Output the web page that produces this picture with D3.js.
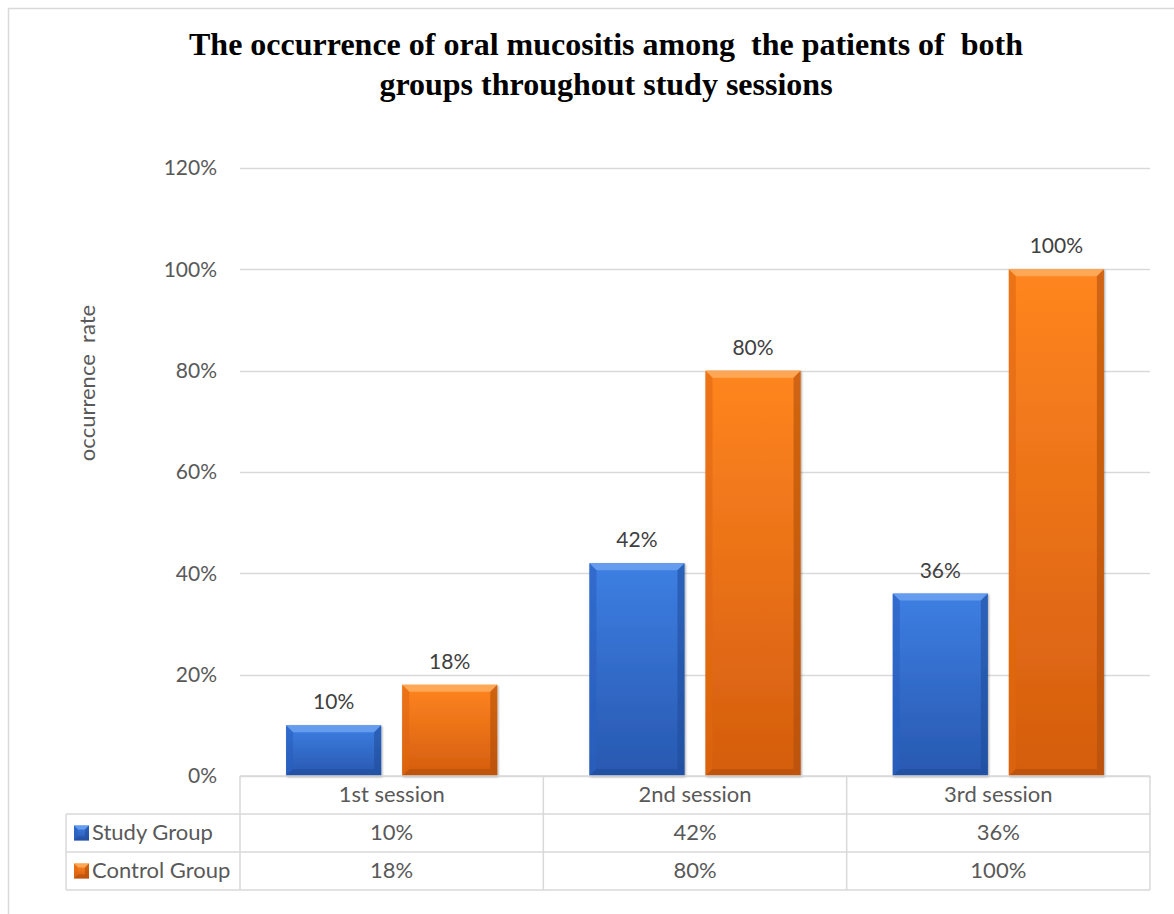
<!DOCTYPE html>
<html>
<head>
<meta charset="utf-8">
<script src="https://cdn.jsdelivr.net/npm/d3@7"></script>
<style>
  html, body { margin: 0; padding: 0; background: #ffffff; }
  svg { display: block; }
</style>
</head>
<body>
<svg id="chart" width="1174" height="914"></svg>
<script>
// Chart data
const categories = ["1st session", "2nd session", "3rd session"];
const seriesNames = ["Study Group", "Control Group"];
const studyValues = [0.10, 0.42, 0.36];
const controlValues = [0.18, 0.80, 1.00];
const yTicks = [0, 0.2, 0.4, 0.6, 0.8, 1.0, 1.2];
const titleLines = [
  "The occurrence of oral mucositis among  the patients of  both",
  "groups throughout study sessions"
];
const yAxisTitle = "occurrence  rate";

const seriesValues = [studyValues, controlValues];

const svg = d3.select("#chart");
const W = 1174, H = 914;
const plot = { left: 240, right: 1150, top: 168, bottom: 776 };
const tableLeft = 66;
const rowBounds = [776, 814, 852, 890];

const fontSans = "Lato, 'Open Sans', sans-serif";
const tickSize = 21;
const tableSize = 22;

// Palette: top/bottom gradient and bevel shades per series
const palette = [
  { top: "#3d7fe3", bottom: "#2858b0", light: "#6aa0f0", dark: "#1f4a98", side: "#2a5fbf" },
  { top: "#ff8520", bottom: "#d45d0e", light: "#ffab5a", dark: "#a94a08", side: "#e06810" }
];

// Outer chart frame
svg.append("rect")
  .attr("x", 8.5).attr("y", 8.5)
  .attr("width", W + 10).attr("height", H + 10)
  .attr("fill", "none").attr("stroke", "#d9d9d9").attr("stroke-width", 1.5);

// Title
const title = svg.append("text")
  .attr("text-anchor", "middle")
  .attr("font-family", "'Liberation Serif', 'Times New Roman', serif")
  .attr("font-weight", "bold")
  .attr("font-size", 32)
  .attr("fill", "#000")
  .style("white-space", "pre");
titleLines.forEach((t, i) => {
  title.append("tspan").attr("x", 606).attr("y", 55 + i * 40).text(t);
});

// Scales
const y = d3.scaleLinear().domain([0, 1.2]).range([plot.bottom, plot.top]);
const x0 = d3.scaleBand().domain(categories).range([plot.left, plot.right]).padding(0);
const x1 = d3.scaleBand().domain(seriesNames).range([0, x0.bandwidth()])
  .paddingInner(0.181).paddingOuter(0.397);

const fmt = d3.format(".0%");

// Gridlines
svg.append("g")
  .selectAll("line")
  .data(yTicks)
  .join("line")
  .attr("x1", plot.left).attr("x2", plot.right)
  .attr("y1", d => Math.round(y(d)) + 0.5).attr("y2", d => Math.round(y(d)) + 0.5)
  .attr("stroke", "#d9d9d9").attr("stroke-width", 1.5);

// Y axis tick labels
const yAxis = d3.axisLeft(y).tickValues(yTicks).tickFormat(fmt).tickSize(0).tickPadding(0);
const yg = svg.append("g").attr("transform", `translate(217,0)`).call(yAxis);
yg.select(".domain").remove();
yg.selectAll("text")
  .attr("font-family", fontSans).attr("font-size", tickSize).attr("fill", "#595959");

// Y axis title
svg.append("text")
  .attr("transform", `translate(95,${383}) rotate(-90)`)
  .attr("text-anchor", "middle")
  .attr("font-family", fontSans).attr("font-size", tableSize).attr("fill", "#595959")
  .style("white-space", "pre")
  .text(yAxisTitle);

// Gradients
const defs = svg.append("defs");
palette.forEach((p, i) => {
  const g = defs.append("linearGradient").attr("id", "grad" + i)
    .attr("x1", 0).attr("y1", 0).attr("x2", 0).attr("y2", 1);
  g.append("stop").attr("offset", "0%").attr("stop-color", p.top);
  g.append("stop").attr("offset", "100%").attr("stop-color", p.bottom);
});
const shadow = defs.append("filter").attr("id", "shadow")
  .attr("x", "-10%").attr("y", "-10%").attr("width", "130%").attr("height", "130%");
shadow.append("feDropShadow").attr("dx", 1).attr("dy", 1).attr("stdDeviation", 1.2)
  .attr("flood-color", "#000").attr("flood-opacity", 0.35);

// Draws a bevelled block in a group
function bevelBlock(g, bx, by, bw, bh, p, gradId, b) {
  b = Math.min(b, bh / 2, bw / 2);
  g.append("rect").attr("x", bx).attr("y", by).attr("width", bw).attr("height", bh)
    .attr("fill", `url(#${gradId})`);
  // top bevel
  g.append("polygon")
    .attr("points", [[bx, by], [bx + bw, by], [bx + bw - b, by + b], [bx + b, by + b]].join(" "))
    .attr("fill", p.light).attr("opacity", 0.9);
  // left bevel
  g.append("polygon")
    .attr("points", [[bx, by], [bx + b, by + b], [bx + b, by + bh - b], [bx, by + bh]].join(" "))
    .attr("fill", p.side).attr("opacity", 0.6);
  // right bevel
  g.append("polygon")
    .attr("points", [[bx + bw, by], [bx + bw, by + bh], [bx + bw - b, by + bh - b], [bx + bw - b, by + b]].join(" "))
    .attr("fill", p.dark).attr("opacity", 0.55);
  // bottom bevel
  g.append("polygon")
    .attr("points", [[bx, by + bh], [bx + b, by + bh - b], [bx + bw - b, by + bh - b], [bx + bw, by + bh]].join(" "))
    .attr("fill", p.dark).attr("opacity", 0.5);
}

// Bars
const barData = [];
categories.forEach((c, ci) => {
  seriesNames.forEach((s, si) => {
    barData.push({ cat: c, series: s, si, value: seriesValues[si][ci] });
  });
});

const barsG = svg.append("g");
barData.forEach(d => {
  const bx = x0(d.cat) + x1(d.series);
  const bw = x1.bandwidth();
  const by = y(d.value);
  const bh = y(0) - by;
  const g = barsG.append("g").attr("filter", "url(#shadow)");
  bevelBlock(g, bx, by, bw, bh, palette[d.si], "grad" + d.si, 7);
});

// Data labels
svg.append("g")
  .selectAll("text")
  .data(barData)
  .join("text")
  .attr("x", d => x0(d.cat) + x1(d.series) + x1.bandwidth() / 2)
  .attr("y", d => y(d.value) - 16)
  .attr("text-anchor", "middle")
  .attr("font-family", fontSans).attr("font-size", tickSize).attr("fill", "#404040")
  .text(d => fmt(d.value));

// Data table
const tableG = svg.append("g");
const gridColor = "#d9d9d9";
// horizontal lines
[
  [plot.left, plot.right, rowBounds[0]],
  [tableLeft, plot.right, rowBounds[1]],
  [tableLeft, plot.right, rowBounds[2]],
  [tableLeft, plot.right, rowBounds[3]]
].forEach(([a, b, yy]) => {
  tableG.append("line").attr("x1", a).attr("x2", b).attr("y1", yy).attr("y2", yy)
    .attr("stroke", gridColor).attr("stroke-width", 1.5);
});
// vertical lines
tableG.append("line").attr("x1", tableLeft).attr("x2", tableLeft)
  .attr("y1", rowBounds[1]).attr("y2", rowBounds[3])
  .attr("stroke", gridColor).attr("stroke-width", 1.5);
const colEdges = [plot.left, ...categories.map(c => x0(c) + x0.bandwidth())];
colEdges.forEach(xx => {
  tableG.append("line").attr("x1", xx).attr("x2", xx)
    .attr("y1", rowBounds[0]).attr("y2", rowBounds[3])
    .attr("stroke", gridColor).attr("stroke-width", 1.5);
});

// Header row: category names
tableG.selectAll("text.cat")
  .data(categories)
  .join("text")
  .attr("class", "cat")
  .attr("x", d => x0(d) + x0.bandwidth() / 2)
  .attr("y", (rowBounds[0] + rowBounds[1]) / 2 + 7)
  .attr("text-anchor", "middle")
  .attr("font-family", fontSans).attr("font-size", tableSize).attr("fill", "#595959")
  .text(d => d);

// Series rows
seriesNames.forEach((s, si) => {
  const rowMid = (rowBounds[si + 1] + rowBounds[si + 2]) / 2;
  const mg = tableG.append("g");
  bevelBlock(mg, 74, rowMid - 7.5, 15, 15, palette[si], "grad" + si, 4);
  tableG.append("text")
    .attr("x", 92).attr("y", rowMid + 7)
    .attr("font-family", fontSans).attr("font-size", tableSize).attr("fill", "#595959")
    .text(s);
  tableG.selectAll(null)
    .data(categories)
    .join("text")
    .attr("x", d => x0(d) + x0.bandwidth() / 2)
    .attr("y", rowMid + 7)
    .attr("text-anchor", "middle")
    .attr("font-family", fontSans).attr("font-size", tableSize).attr("fill", "#595959")
    .text((d, ci) => fmt(seriesValues[si][ci]));
});
</script>
</body>
</html>
